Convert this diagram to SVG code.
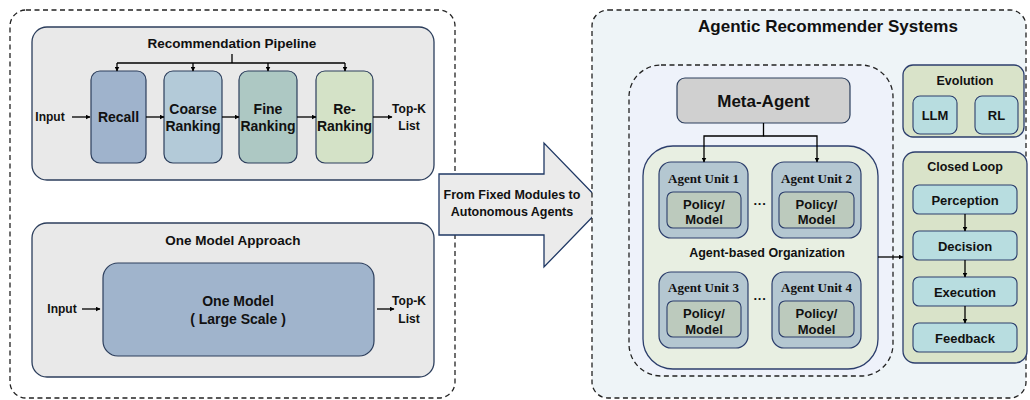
<svg xmlns="http://www.w3.org/2000/svg" width="1030" height="400" viewBox="0 0 1030 400">
<defs>
<marker id="ah" viewBox="0 0 10 10" refX="9" refY="5" markerWidth="5" markerHeight="5" orient="auto" markerUnits="userSpaceOnUse"><path d="M0,0 L10,5 L0,10 z" fill="#000"/></marker>
<style>
.dash{fill:none;stroke:#222;stroke-width:1.3;stroke-dasharray:5,3.5}
.panel{fill:#e9e9e9;stroke:#2c3e5c;stroke-width:1.3}
.b{stroke:#2c3e5c;stroke-width:1.2}
.t{font-family:"Liberation Sans",Arial,sans-serif;font-weight:bold;fill:#111;text-anchor:middle;dominant-baseline:central}
.c{font-family:"Comic Sans MS","Liberation Sans",sans-serif;font-weight:bold;fill:#111;text-anchor:middle;dominant-baseline:central}
.s{font-family:"Liberation Serif","Times New Roman",serif;font-weight:bold;fill:#111;text-anchor:middle;dominant-baseline:central;font-size:13px}
.ln{fill:none;stroke:#000;stroke-width:1.3}
.unit{fill:#b4c7d1;stroke:#2c3e6c;stroke-width:1.2}
.pm{fill:#bccabd;stroke:#2c3e6c;stroke-width:1.1}
.cy{fill:#b8dde0;stroke:#2c3e6c;stroke-width:1.1}
.grn{fill:#d9e3c9;stroke:#2c3e6c;stroke-width:1.3}
</style>
</defs>

<g id="left-container">
<rect class="dash" x="10" y="10" width="445" height="388" rx="16"/>
</g>

<g id="pipeline">
<rect class="panel" x="32" y="27" width="402" height="153" rx="15"/>
<text class="c" x="232" y="43" font-size="13.5">Recommendation Pipeline</text>
</g>
<g id="recall"><rect class="b" x="91" y="71" width="55" height="92" rx="9" fill="#9fb3cc"/><text class="t" x="118.5" y="117" font-size="14">Recall</text></g>
<g id="coarse"><rect class="b" x="164" y="71" width="58" height="92" rx="9" fill="#b3cad8"/><text class="t" x="193" y="109" font-size="14">Coarse</text><text class="t" x="193" y="126" font-size="14">Ranking</text></g>
<g id="fine"><rect class="b" x="239" y="71" width="58" height="92" rx="9" fill="#adc8c3"/><text class="t" x="268" y="109" font-size="14">Fine</text><text class="t" x="268" y="126" font-size="14">Ranking</text></g>
<g id="rerank"><rect class="b" x="316" y="71" width="57" height="92" rx="9" fill="#d4e2c7"/><text class="t" x="344.5" y="109" font-size="14">Re-</text><text class="t" x="344.5" y="126" font-size="14">Ranking</text></g>
<g id="pipe-labels">
<text class="t" x="50" y="117" font-size="12">Input</text>
<text class="t" x="409" y="109" font-size="12">Top-K</text>
<text class="t" x="409" y="126" font-size="12">List</text>
</g>

<g id="one-model">
<rect class="panel" x="32" y="223" width="402" height="154" rx="15"/>
<text class="c" x="233" y="240" font-size="13.5">One Model Approach</text>
<rect class="b" x="103" y="263" width="271" height="93" rx="15" fill="#a0b4cc"/>
<text class="t" x="238" y="301" font-size="14">One Model</text>
<text class="t" x="238" y="319" font-size="14">( Large Scale )</text>
<text class="t" x="62" y="309" font-size="12">Input</text>
<text class="t" x="409" y="301" font-size="12">Top-K</text>
<text class="t" x="409" y="319" font-size="12">List</text>
</g>

<g id="transition-arrow">
<path d="M439,174 L544,174 L544,143 L604,205 L544,267 L544,235 L439,235 Z" fill="#ebebeb" stroke="#1f3864" stroke-width="1.3"/>
<text class="t" x="512" y="195" font-size="12.5">From Fixed Modules to</text>
<text class="t" x="512" y="212" font-size="12.5">Autonomous Agents</text>
</g>

<g id="agentic-container">
<rect x="592" y="10" width="434" height="388" rx="16" fill="#eef4f7" stroke="#222" stroke-width="1.3" stroke-dasharray="5,3.5"/>
<text class="c" x="828" y="26" font-size="17">Agentic Recommender Systems</text>
<rect x="629" y="65" width="264" height="311" rx="32" fill="#eef2fa" stroke="#222" stroke-width="1.3" stroke-dasharray="5,3.5"/>
</g>

<g id="meta-agent">
<rect class="b" x="677" y="78" width="173" height="45" rx="8" fill="#d0d0d0"/>
<text class="t" x="763.5" y="101" font-size="17">Meta-Agent</text>
</g>

<g id="agent-org">
<rect x="643" y="146" width="235" height="223" rx="30" fill="#e8efe2" stroke="#2c3e6c" stroke-width="1.3"/>
<text class="t" x="767" y="253" font-size="12.5">Agent-based Organization</text>
<text class="t" x="760" y="203" font-size="13">···</text>
<text class="t" x="760" y="298" font-size="13">···</text>
</g>
<g id="unit1"><rect class="unit" x="659" y="162" width="89" height="76" rx="12"/><text class="s" x="703.5" y="178">Agent Unit 1</text><rect class="pm" x="667" y="192" width="74" height="36" rx="6"/><text class="t" x="704" y="204" font-size="13">Policy/</text><text class="t" x="704" y="219" font-size="13">Model</text></g>
<g id="unit2"><rect class="unit" x="772" y="162" width="89" height="76" rx="12"/><text class="s" x="816.5" y="178">Agent Unit 2</text><rect class="pm" x="779" y="192" width="75" height="36" rx="6"/><text class="t" x="816.5" y="204" font-size="13">Policy/</text><text class="t" x="816.5" y="219" font-size="13">Model</text></g>
<g id="unit3"><rect class="unit" x="659" y="272" width="89" height="76" rx="12"/><text class="s" x="703.5" y="287">Agent Unit 3</text><rect class="pm" x="667" y="301" width="74" height="36" rx="6"/><text class="t" x="704" y="313" font-size="13">Policy/</text><text class="t" x="704" y="329" font-size="13">Model</text></g>
<g id="unit4"><rect class="unit" x="772" y="272" width="89" height="76" rx="12"/><text class="s" x="816.5" y="287">Agent Unit 4</text><rect class="pm" x="779" y="301" width="75" height="36" rx="6"/><text class="t" x="816.5" y="313" font-size="13">Policy/</text><text class="t" x="816.5" y="329" font-size="13">Model</text></g>

<g id="evolution">
<rect class="grn" x="903" y="65" width="121" height="72" rx="10"/>
<text class="t" x="965" y="81" font-size="12.5">Evolution</text>
<rect class="cy" x="913" y="96" width="44" height="38" rx="7"/><text class="t" x="935" y="115" font-size="13">LLM</text>
<rect class="cy" x="975" y="96" width="43" height="38" rx="7"/><text class="t" x="996.5" y="115" font-size="13">RL</text>
</g>

<g id="closed-loop">
<rect class="grn" x="903" y="152" width="124" height="211" rx="12"/>
<text class="t" x="965" y="167" font-size="12.5">Closed Loop</text>
</g>
<g id="perception"><rect class="cy" x="913" y="185" width="104" height="29" rx="6"/><text class="t" x="965" y="200" font-size="13">Perception</text></g>
<g id="decision"><rect class="cy" x="913" y="231" width="104" height="29" rx="6"/><text class="t" x="965" y="246" font-size="13">Decision</text></g>
<g id="execution"><rect class="cy" x="913" y="277" width="104" height="29" rx="6"/><text class="t" x="965" y="292" font-size="13">Execution</text></g>
<g id="feedback"><rect class="cy" x="913" y="323" width="104" height="29" rx="6"/><text class="t" x="965" y="338" font-size="13">Feedback</text></g>

<g id="connectors">
<path class="ln" d="M232,54 V63"/>
<path class="ln" d="M117,63 H345"/>
<path class="ln" d="M117,63 V71" marker-end="url(#ah)"/>
<path class="ln" d="M193,63 V71" marker-end="url(#ah)"/>
<path class="ln" d="M268,63 V71" marker-end="url(#ah)"/>
<path class="ln" d="M345,63 V71" marker-end="url(#ah)"/>
<path class="ln" d="M72,117 H90" marker-end="url(#ah)"/>
<path class="ln" d="M146,117 H164" marker-end="url(#ah)"/>
<path class="ln" d="M222,117 H239" marker-end="url(#ah)"/>
<path class="ln" d="M297,117 H316" marker-end="url(#ah)"/>
<path class="ln" d="M373,117 H392" marker-end="url(#ah)"/>
<path class="ln" d="M82,309 H100" marker-end="url(#ah)"/>
<path class="ln" d="M377,309 H394" marker-end="url(#ah)"/>
<path class="ln" d="M763.5,123 V136 H704 V162" marker-end="url(#ah)"/>
<path class="ln" d="M763.5,136 H817 V162" marker-end="url(#ah)"/>
<path class="ln" d="M878,257 H903" marker-end="url(#ah)"/>
<path class="ln" d="M965,214 V231" marker-end="url(#ah)"/>
<path class="ln" d="M965,260 V277" marker-end="url(#ah)"/>
<path class="ln" d="M965,306 V323" marker-end="url(#ah)"/>
</g>
</svg>
